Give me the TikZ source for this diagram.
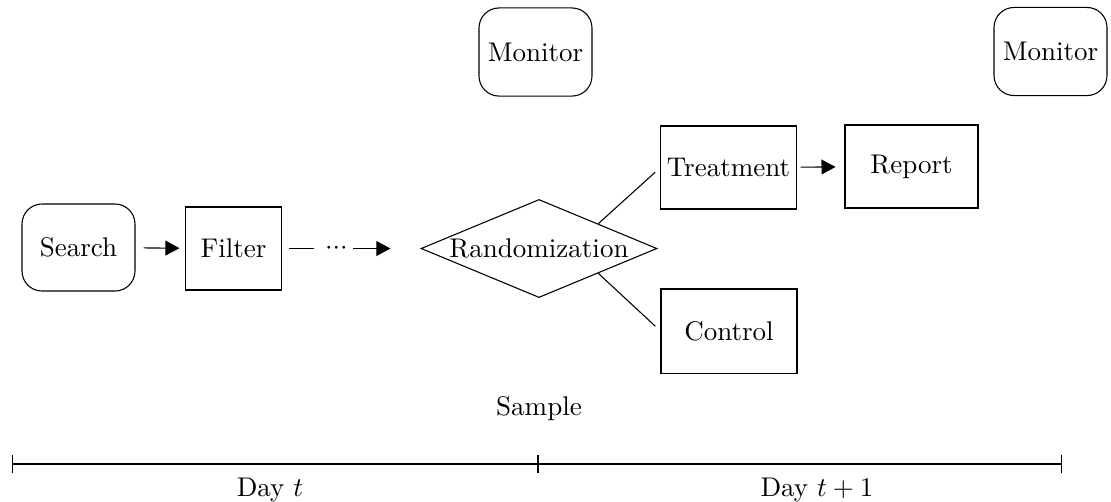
\documentclass[tikz,border=0pt]{standalone}
\usetikzlibrary{shapes.geometric,arrows.meta}
\begin{document}
\begin{tikzpicture}[x=0.37pt,y=-0.37pt,
  box/.style={draw,rectangle,inner sep=0pt},
  rbox/.style={draw,rectangle,rounded corners=7.4pt,inner sep=0pt},
  arr/.style={-{Triangle[length=5.2pt,width=5.5pt]}},
  line width=0.4pt]
\useasboundingbox (0,0) rectangle (1111,501);
\node[rbox,minimum width=41.8pt,minimum height=32.2pt] (search) at (78.5,247.5) {Search};
\node[box,minimum width=35.2pt,minimum height=30.7pt] (filter) at (233.5,248.5) {Filter};
\node[inner sep=0pt] (dots) at (336.5,248.5) {${\cdot}{\cdot}{\cdot}$};
\node[draw,diamond,inner sep=0pt,minimum width=87.3pt,minimum height=36.3pt] (rand) at (539,248.5) {};
\node at (rand) {Randomization};
\node[box,minimum width=50pt,minimum height=30.7pt] (treat) at (728.5,167.5) {Treatment};
\node[box,minimum width=49.2pt,minimum height=30.7pt] (report) at (911.5,166.5) {Report};
\node[box,minimum width=50.3pt,minimum height=31.1pt] (control) at (729,331) {Control};
\node[rbox,minimum width=41.8pt,minimum height=32.6pt] (mon1) at (535.5,52) {Monitor};
\node[rbox,minimum width=41.8pt,minimum height=32.6pt] (mon2) at (1050.5,51.5) {Monitor};
\node (sample) at (539,409) {Sample};
\draw[arr,shorten <=3pt,shorten >=2.2pt] (search) -- (filter);
\draw[shorten <=2.6pt,shorten >=4pt] (filter) -- (dots);
\draw[arr,shorten <=1.85pt,shorten >=11.1pt] (dots) -- (rand);
\draw[shorten >=2.6pt] (rand.north east) -- (treat.west);
\draw[shorten >=2.6pt] (rand.south east) -- (control.west);
\draw[arr,shorten <=1.5pt,shorten >=3.3pt] (treat) -- (report);
\coordinate (d0) at (12,464);
\coordinate (d1) at (538,464);
\coordinate (d2) at (1062,464);
\draw[{Bar[width=6.7pt]}-{Bar[width=6.7pt]}] (d0) -- (d1);
\draw[{Bar[width=6.7pt]}-{Bar[width=6.7pt]}] (d1) -- (d2);
\node (day1) at (270,490) {Day $t$};
\node (day2) at (817,490) {Day $t+1$};
\end{tikzpicture}
\end{document}
